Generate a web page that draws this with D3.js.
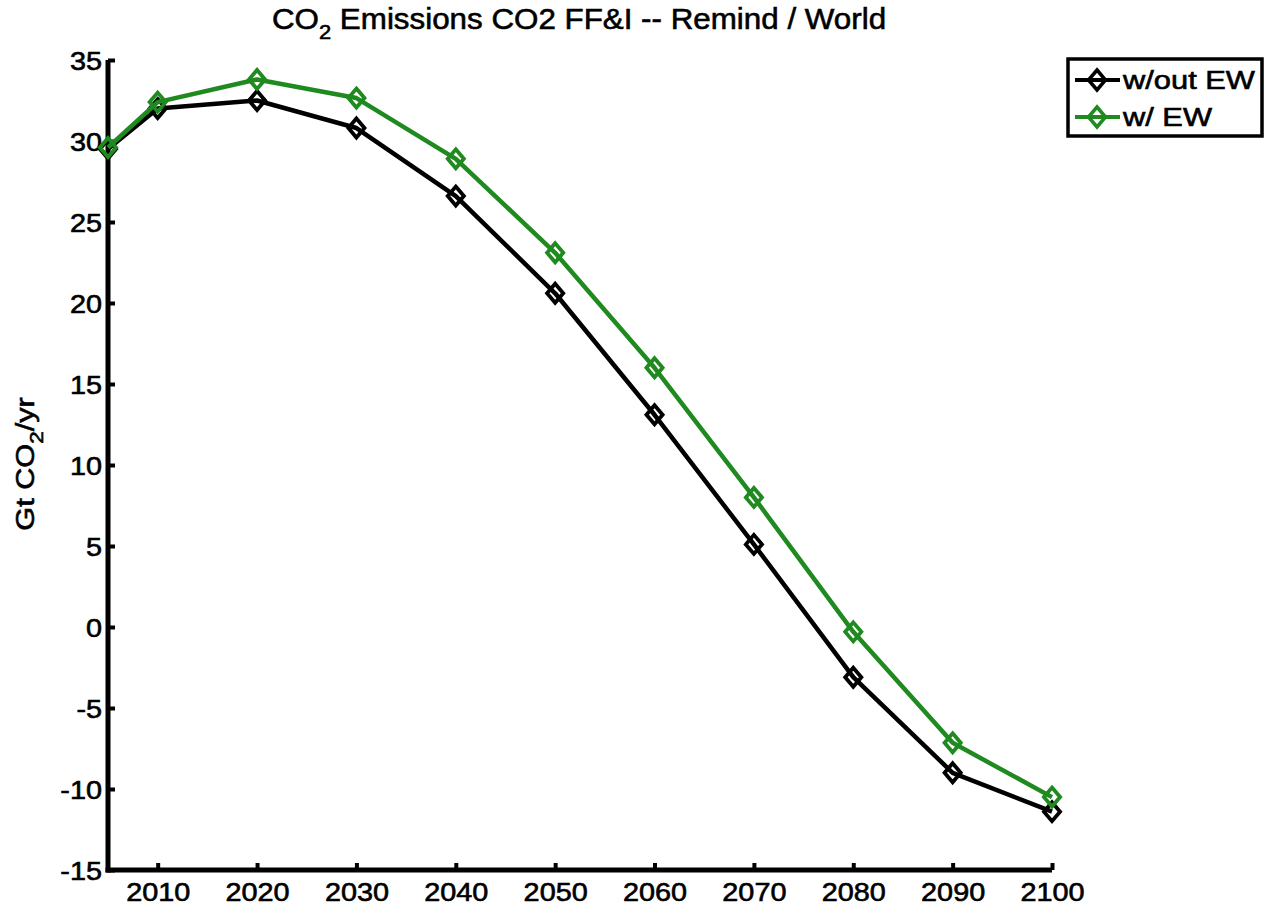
<!DOCTYPE html>
<html><head><meta charset="utf-8">
<script src="https://cdn.jsdelivr.net/npm/d3@7"></script>
<style>body{margin:0;background:#fff;} text{font-family:"Liberation Sans",Arial,sans-serif;stroke:#000;stroke-width:0.6px;}</style>
</head><body>
<svg id="chart" width="1270" height="905"></svg>
<script>
const years = [2005, 2010, 2020, 2030, 2040, 2050, 2060, 2070, 2080, 2090, 2100];
const withoutEW = [29.5, 32.0, 32.5, 30.8, 26.6, 20.6, 13.1, 5.1, -3.1, -9.0, -11.4];
const withEW = [29.6, 32.4, 33.8, 32.65, 28.9, 23.1, 16.0, 8.0, -0.3, -7.15, -10.5];
const xTicks = [2010, 2020, 2030, 2040, 2050, 2060, 2070, 2080, 2090, 2100];
const yTicks = [-15, -10, -5, 0, 5, 10, 15, 20, 25, 30, 35];
const seriesNames = ["w/out EW", "w/ EW"];
const seriesColors = ["#000000", "#1f8a1f"];

const svg = d3.select("#chart");
const x = d3.scaleLinear().domain([2005, 2100]).range([108, 1052]);
const y = d3.scaleLinear().domain([-15, 35]).range([870, 60]);

const fs = 25.5;
const stretch = 1.13;
// axes
const xAxis = svg.append("g").attr("transform", "translate(0,870)")
  .call(d3.axisBottom(x).tickValues(xTicks).tickFormat(d => String(d)).tickSizeInner(-7).tickSizeOuter(0).tickPadding(13));
const yAxis = svg.append("g").attr("transform", "translate(108,0)")
  .call(d3.axisLeft(y).tickValues(yTicks).tickFormat(d => String(d)).tickSizeInner(-7).tickSizeOuter(0).tickPadding(6));
[xAxis, yAxis].forEach(a => {
  a.select(".domain").attr("stroke", "#000").attr("stroke-width", 5);
  a.selectAll(".tick line").attr("stroke", "#000").attr("stroke-width", 4);
  a.selectAll(".tick text").attr("fill", "#000").style("font-size", fs + "px")
    .style("font-family", "Liberation Sans, Arial, sans-serif")
    .each(function () {
      const w = this.getComputedTextLength();
      d3.select(this).attr("textLength", w * stretch).attr("lengthAdjust", "spacingAndGlyphs");
    });
});
xAxis.select(".domain").attr("d", "M" + (108 - 2.5) + ",0H" + x(2100));
yAxis.select(".domain").attr("d", "M0," + (y(-15) + 2.5) + "V" + y(35));
xAxis.selectAll(".tick text").attr("dy", "0.71em");
yAxis.selectAll(".tick text").attr("dy", "0.36em");

// lines
const line = d3.line().x((d, i) => x(years[i])).y(d => y(d));
const diamond = (cx, cy, s) => `M${cx},${cy - s}L${cx + s * 0.85},${cy}L${cx},${cy + s}L${cx - s * 0.85},${cy}Z`;
[withoutEW, withEW].forEach((vals, k) => {
  svg.append("path").datum(vals).attr("d", line).attr("fill", "none")
    .attr("stroke", seriesColors[k]).attr("stroke-width", 4.5).attr("stroke-linejoin", "round");
  svg.append("g").selectAll("path").data(vals).join("path")
    .attr("d", (d, i) => diamond(x(years[i]), y(d), 9.5))
    .attr("fill", "none").attr("stroke", seriesColors[k]).attr("stroke-width", 3.8);
});

// title
const title = svg.append("text").attr("transform", "translate(579,28.5) scale(1.045,1)").attr("text-anchor", "middle")
  .style("font-size", "30px").attr("fill", "#000");
title.append("tspan").text("CO");
title.append("tspan").attr("dy", 10).style("font-size", "21px").text("2");
title.append("tspan").attr("dy", -10).text(" Emissions CO2 FF&I -- Remind / World");

// y label
const yl = svg.append("text").attr("transform", "translate(34,464) rotate(-90) scale(1.18,1)").attr("text-anchor", "middle")
  .style("font-size", "26px").attr("fill", "#000");
yl.append("tspan").text("Gt CO");
yl.append("tspan").attr("dy", 9).style("font-size", "19px").text("2");
yl.append("tspan").attr("dy", -9).text("/yr");

// legend
const lg = svg.append("g");
lg.append("rect").attr("x", 1068).attr("y", 59).attr("width", 194).attr("height", 77)
  .attr("fill", "#fff").attr("stroke", "#000").attr("stroke-width", 3.5);
const legendTextW = [132, 89];
seriesNames.forEach((n, k) => {
  const yy = 80 + k * 37;
  lg.append("line").attr("x1", 1075).attr("x2", 1120).attr("y1", yy).attr("y2", yy)
    .attr("stroke", seriesColors[k]).attr("stroke-width", 4);
  lg.append("path").attr("d", diamond(1097, yy, 10)).attr("fill", "none").attr("stroke", seriesColors[k]).attr("stroke-width", 3.5);
  lg.append("text").attr("x", 1123).attr("y", yy).attr("dy", "0.36em").style("font-size", "25px").attr("fill", "#000")
    .attr("textLength", legendTextW[k]).attr("lengthAdjust", "spacingAndGlyphs").text(n);
});
</script>
</body></html>
